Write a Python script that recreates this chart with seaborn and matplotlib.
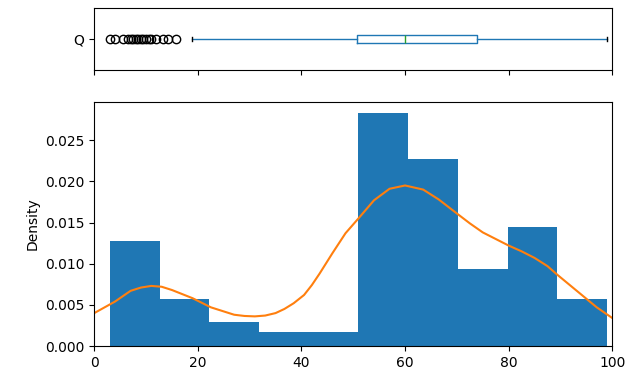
import numpy as np
import pandas as pd
import matplotlib
matplotlib.use("Agg")
import matplotlib.pyplot as plt
import seaborn as sns

# Histogram (density)
bin_edges = [3.0, 12.6, 22.2, 31.8, 41.4, 51.0, 60.6, 70.2, 79.8, 89.4, 99.0]
bin_density = [0.01274, 0.00565, 0.00286, 0.00168, 0.00172, 0.02835, 0.02270, 0.00940, 0.01448, 0.00565]

# KDE curve
kde_x = [0, 2, 4, 7, 9, 11, 13, 15, 17, 19, 20.6, 22.5, 25, 27, 29, 31, 33, 35, 36.7,
         38.5, 40.5, 42, 43.5, 46, 48.5, 51, 54, 57, 60, 63.5, 66.5, 70, 72.5, 75,
         77.5, 80, 82.5, 85, 87.5, 89.5, 92, 94.5, 97, 100]
kde_y = [0.0040, 0.0047, 0.0054, 0.0067, 0.0071, 0.0073, 0.0072, 0.0068, 0.0063, 0.0058,
         0.0053, 0.0047, 0.0042, 0.0038, 0.00365, 0.0036, 0.0037, 0.0040, 0.0045,
         0.0052, 0.0062, 0.0074, 0.0088, 0.0113, 0.0137, 0.0155, 0.0177, 0.0191,
         0.0195, 0.0190, 0.0178, 0.0161, 0.0149, 0.0138, 0.0130, 0.0122, 0.0115,
         0.0107, 0.0097, 0.0086, 0.0073, 0.0060, 0.0047, 0.0034]

# Box plot statistics
box_label = "Q"
box_q1, box_med, box_q3 = 50.8, 60.0, 73.8
box_whislo, box_whishi = 18.9, 98.9
box_fliers = [3, 4, 5.5, 6.5, 7, 7.5, 8, 8.5, 9, 9.5, 10, 10.5, 11, 12, 13.3, 14.3, 15.8]

blue = "#1f77b4"
orange = "#ff7f0e"
green = "#2ca02c"

fig = plt.figure(figsize=(6.29, 3.75), dpi=100)
ax_box = fig.add_axes([0.1499, 0.8133, 0.8235, 0.1653])
ax = fig.add_axes([0.1499, 0.0773, 0.8235, 0.652])

# Histogram via seaborn (weights = densities)
centers = [(a + b) / 2 for a, b in zip(bin_edges[:-1], bin_edges[1:])]
hist_df = pd.DataFrame({"x": centers, "w": bin_density})
sns.histplot(data=hist_df, x="x", weights="w", bins=bin_edges, stat="count",
             color=blue, alpha=1.0, linewidth=0, edgecolor="none", ax=ax)

kde_df = pd.DataFrame({"x": kde_x, "y": kde_y})
sns.lineplot(data=kde_df, x="x", y="y", color=orange, linewidth=1.5, ax=ax)

ax.set_xlim(0, 100)
ax.set_ylim(0, 0.0297)
ax.set_xticks([0, 20, 40, 60, 80, 100])
ax.set_yticks([0.0, 0.005, 0.010, 0.015, 0.020, 0.025])
ax.set_yticklabels(["0.000", "0.005", "0.010", "0.015", "0.020", "0.025"])
ax.set_xlabel("")
ax.set_ylabel("Density", fontsize=10)
ax.tick_params(labelsize=10)

# Box plot
stats = [dict(med=box_med, q1=box_q1, q3=box_q3, whislo=box_whislo,
              whishi=box_whishi, fliers=box_fliers, label=box_label)]
ax_box.bxp(stats, positions=[1], widths=0.13, vert=False,
           boxprops=dict(color=blue, linewidth=1.0),
           whiskerprops=dict(color=blue, linewidth=1.0),
           capprops=dict(color="black", linewidth=1.0),
           medianprops=dict(color=green, linewidth=1.0),
           flierprops=dict(marker="o", markerfacecolor="none",
                           markeredgecolor="black", markersize=6))
ax_box.set_xlim(0, 100)
ax_box.set_ylim(0.5, 1.5)
ax_box.set_xticks([0, 20, 40, 60, 80, 100])
ax_box.set_xticklabels([])
ax_box.set_yticks([1])
ax_box.set_yticklabels([box_label])
ax_box.tick_params(labelsize=10)

fig.savefig("out.png", dpi=100)
